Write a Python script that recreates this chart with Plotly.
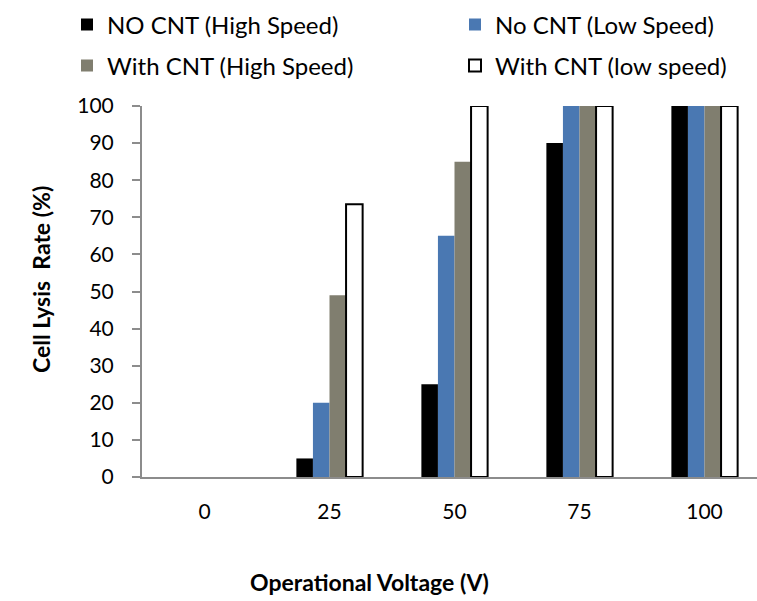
import plotly.graph_objects as go

# Operating voltages (V) shown on the category axis
voltages = ["0", "25", "50", "75", "100"]

# Cell lysis rate (%) for each configuration
no_cnt_high = [0, 5, 25, 90, 100]
no_cnt_low = [0, 20, 65, 100, 100]
with_cnt_high = [0, 49, 85, 100, 100]
with_cnt_low = [0, 73.5, 100, 100, 100]

series_names = [
    "NO CNT (High Speed)",
    "No CNT (Low Speed)",
    "With CNT (High Speed)",
    "With CNT (low speed)",
]

FONT = "Lato"
AXIS_GRAY = "#8c8c8c"

W, H = 757, 601
L, R, T, B = 142, 0, 106, 124
plot_w = W - L - R
plot_h = H - T - B
cat_px = 125  # pixel width of one category slot


def outline_widths(vals, w):
    # no outline on empty bars, so nothing is drawn at zero
    return [w if v > 0 else 0 for v in vals]


fig = go.Figure()

fills = ["#000000", "#4a78b2", "#807e6f", "#ffffff"]
outline = [0, 0, 0, 2]
values = [no_cnt_high, no_cnt_low, with_cnt_high, with_cnt_low]
legend_ids = ["legend", "legend2", "legend3", "legend4"]

for name, vals, fill, lw, lg in zip(series_names, values, fills, outline, legend_ids):
    widths = outline_widths(vals, lw)
    # points are passed highest voltage first so the legend swatch takes the
    # outline of a non-empty bar; the axis keeps the category order
    fig.add_trace(
        go.Bar(
            x=voltages[::-1],
            y=vals[::-1],
            name=name,
            marker=dict(
                color=fill,
                line=dict(width=widths[::-1], color="#000000"),
            ),
            legend=lg,
        )
    )

# one legend box per entry: two columns, two rows above the plot
legend_common = dict(
    orientation="h",
    xref="container",
    yref="container",
    xanchor="left",
    yanchor="middle",
    font=dict(family=FONT, size=24, color="#000000"),
    bgcolor="rgba(0,0,0,0)",
    itemclick=False,
    itemdoubleclick=False,
)
col_x = [67, 455]
row_y = [25, 66]

fig.update_layout(
    width=W,
    height=H,
    margin=dict(l=L, r=R, t=T, b=B),
    paper_bgcolor="#ffffff",
    plot_bgcolor="#ffffff",
    barmode="group",
    bargap=0.47,
    bargroupgap=0,
    showlegend=True,
    font=dict(family=FONT, size=21, color="#000000"),
    legend=dict(legend_common, x=col_x[0] / W, y=1 - row_y[0] / H),
    legend2=dict(legend_common, x=col_x[1] / W, y=1 - row_y[0] / H),
    legend3=dict(legend_common, x=col_x[0] / W, y=1 - row_y[1] / H),
    legend4=dict(legend_common, x=col_x[1] / W, y=1 - row_y[1] / H),
    xaxis=dict(
        type="category",
        categoryorder="array",
        categoryarray=voltages,
        range=[-0.5, -0.5 + plot_w / cat_px],
        showline=True,
        linecolor=AXIS_GRAY,
        linewidth=2,
        ticks="",
        showgrid=False,
        zeroline=False,
        ticklabelstandoff=15,
        tickfont=dict(family=FONT, size=21, color="#000000"),
    ),
    yaxis=dict(
        range=[0, 100],
        tickvals=list(range(0, 101, 10)),
        showline=True,
        linecolor=AXIS_GRAY,
        linewidth=2,
        ticks="outside",
        ticklen=8,
        tickwidth=2,
        tickcolor=AXIS_GRAY,
        showgrid=False,
        zeroline=False,
        ticklabelstandoff=14,
        tickfont=dict(family=FONT, size=21, color="#000000"),
    ),
    annotations=[
        dict(
            text="<b>Operational Voltage (V)</b>",
            xref="paper",
            yref="paper",
            x=(369 - L) / plot_w,
            y=-(582 - (H - B)) / plot_h,
            xanchor="center",
            yanchor="middle",
            showarrow=False,
            font=dict(family=FONT, size=23, color="#000000"),
        ),
        dict(
            text="<b>Cell Lysis\u00a0 Rate (%)</b>",
            xref="paper",
            yref="paper",
            x=-(L - 41) / plot_w,
            y=1 - (280 - T) / plot_h,
            xanchor="center",
            yanchor="middle",
            textangle=-90,
            showarrow=False,
            font=dict(family=FONT, size=23, color="#000000"),
        ),
    ],
)

fig.write_html("out.html")
